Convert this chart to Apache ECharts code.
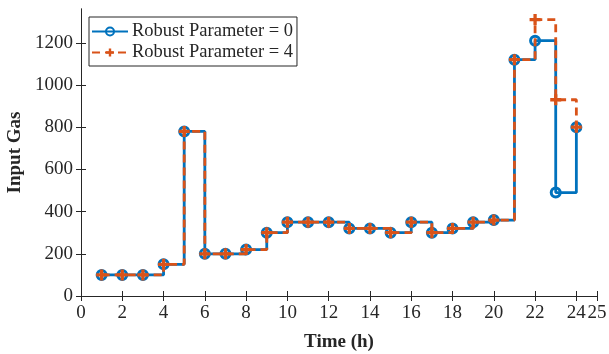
<!DOCTYPE html>
<html>
<head>
<meta charset="utf-8">
<script src="https://cdn.jsdelivr.net/npm/echarts@6/dist/echarts.min.js"></script>
<style>
  html, body { margin: 0; padding: 0; background: #fff; }
  #chart { width: 609px; height: 354px; }
</style>
</head>
<body>
<div id="chart"></div>
<script>
// hourly input gas for the two robust parameter settings (stairs plot)
const hours = [1, 2, 3, 4, 5, 6, 7, 8, 9, 10, 11, 12, 13, 14, 15, 16, 17, 18, 19, 20, 21, 22, 23, 24];
const gasRobust0 = [100, 100, 100, 150, 780, 200, 200, 220, 300, 350, 350, 350, 320, 320, 300, 350, 300, 320, 350, 360, 1120, 1210, 490, 800];
const gasRobust4 = [100, 100, 100, 150, 780, 200, 200, 220, 300, 350, 350, 350, 320, 320, 300, 350, 300, 320, 350, 360, 1120, 1310, 930, 800];
const xTicks = [0, 2, 4, 6, 8, 10, 12, 14, 16, 18, 20, 22, 24, 25];
const yTicks = [0, 200, 400, 600, 800, 1000, 1200];

const blue = "#0072BD";
const orange = "#D95319";
const axisColor = "#262626";
const serif = "Liberation Serif";

// plus marker, filled so it survives as a path symbol
const plusPath = "path://M3.5,0H6.5V3.5H10V6.5H6.5V10H3.5V6.5H0V3.5H3.5Z";

const chart = echarts.init(document.getElementById("chart"), null, { renderer: "canvas" });

const tickStyle = () => ({ show: true, inside: true, length: 5, lineStyle: { color: axisColor, width: 1 } });
const plain = v => String(v);

const option = {
  animation: false,
  backgroundColor: "#fff",
  grid: { left: 81, right: 12, top: 9, bottom: 58, outerBoundsMode: "none", containLabel: false },
  legend: {
    left: 89, top: 17,
    orient: "vertical",
    backgroundColor: "#fff",
    borderColor: axisColor, borderWidth: 1,
    padding: [5, 4, 4, 2],
    itemGap: 2,
    itemWidth: 36, itemHeight: 10,
    textStyle: { fontFamily: serif, fontSize: 18.5, color: axisColor, padding: [0, 0, 0, -1] },
    data: ["Robust Parameter = 0", "Robust Parameter = 4"]
  },
  xAxis: [
    {
      type: "value", min: 0, max: 25,
      name: "Time (h)", nameLocation: "middle", nameGap: 37,
      nameTextStyle: { fontFamily: serif, fontSize: 19, fontWeight: "bold", color: axisColor },
      axisLine: { lineStyle: { color: axisColor, width: 1 } },
      axisTick: Object.assign(tickStyle(), { customValues: xTicks }),
      axisLabel: { customValues: xTicks, formatter: plain, fontFamily: serif, fontSize: 19, color: axisColor, margin: 8 },
      splitLine: { show: false }
    },
    {
      type: "value", min: 0, max: 25, position: "top",
      axisLine: { lineStyle: { color: axisColor, width: 1 } },
      axisTick: Object.assign(tickStyle(), { customValues: xTicks }),
      axisLabel: { show: false },
      splitLine: { show: false }
    }
  ],
  yAxis: [
    {
      type: "value", min: 0, max: 1360,
      name: "Input Gas", nameLocation: "middle", nameGap: 56,
      nameTextStyle: { fontFamily: serif, fontSize: 19, fontWeight: "bold", color: axisColor },
      axisLine: { show: true, lineStyle: { color: axisColor, width: 1 } },
      axisTick: Object.assign(tickStyle(), { customValues: yTicks }),
      axisLabel: { customValues: yTicks, formatter: plain, fontFamily: serif, fontSize: 19, color: axisColor, margin: 8 },
      splitLine: { show: false }
    },
    {
      type: "value", min: 0, max: 1360, position: "right",
      axisLine: { show: true, lineStyle: { color: axisColor, width: 1 } },
      axisTick: Object.assign(tickStyle(), { customValues: yTicks }),
      axisLabel: { show: false },
      splitLine: { show: false }
    }
  ],
  series: [
    {
      name: "Robust Parameter = 0",
      type: "line",
      step: "end",
      data: hours.map((h, i) => [h, gasRobust0[i]]),
      symbol: "circle", symbolSize: 9,
      itemStyle: { color: "rgba(255,255,255,0)", borderColor: blue, borderWidth: 3 },
      lineStyle: { color: blue, width: 2.8 },
      z: 2
    },
    {
      name: "Robust Parameter = 4",
      type: "line",
      step: "end",
      data: hours.map((h, i) => [h, gasRobust4[i]]),
      symbol: plusPath, symbolSize: 11,
      itemStyle: { color: orange },
      lineStyle: { color: orange, width: 2.8, type: [8, 5] },
      z: 3
    }
  ]
};

chart.setOption(option);
</script>
</body>
</html>
